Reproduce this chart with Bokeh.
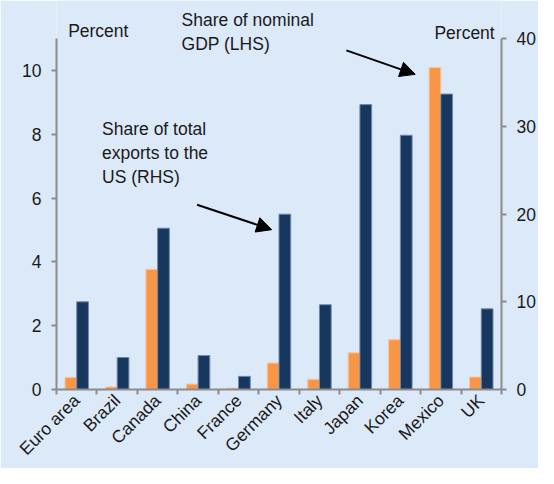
import math
from bokeh.plotting import figure
from bokeh.models import (Range1d, LinearAxis, FixedTicker, Label, Arrow,
                          NormalHead, ColumnDataSource)
from bokeh.embed import file_html
from bokeh.resources import INLINE

countries = ["Euro area", "Brazil", "Canada", "China", "France", "Germany",
             "Italy", "Japan", "Korea", "Mexico", "UK"]
gdp_share = [0.38, 0.08, 3.77, 0.17, 0.04, 0.83, 0.32, 1.15, 1.56, 10.1, 0.39]
export_share = [10.0, 3.65, 18.4, 3.87, 1.5, 20.0, 9.67, 32.5, 29.0, 33.7, 9.2]
left_ticks = [0, 2, 4, 6, 8, 10]
right_ticks = [0, 10, 20, 30, 40]
left_max = 11
right_max = 40

BG = "#DCE9F8"
ORANGE = "#F79646"
NAVY = "#17375E"
AXIS = "#8C8C8C"
FONT = "Liberation Sans"
FS = "17.5px"

W, H = 538, 468
SX, SY = W / 554, H / 484
# frame geometry (figure pixels)
FL, FR = 58 * SX, 517 * SX
Y0, Y11 = 405.7 * SY, 40 * SY
ppu = (Y0 - Y11) / left_max
ytop = Y0 / ppu  # data value at top of figure

n = len(countries)
centers = [i + 0.5 for i in range(n)]
bw = 0.29

src = ColumnDataSource(dict(
    xo=[c - bw / 2 for c in centers],
    xn=[c + bw / 2 for c in centers],
    gdp=gdp_share,
    exp=export_share,
))

p = figure(width=W, height=H, output_backend="svg", toolbar_location=None,
           x_range=Range1d(0, n), y_range=Range1d(0, ytop),
           min_border_left=round(FL), min_border_right=round(W - FR),
           min_border_top=0, min_border_bottom=round(H - Y0),
           x_axis_location=None, y_axis_location=None)
p.background_fill_color = BG
p.border_fill_color = BG
p.outline_line_color = None
p.grid.visible = False
p.extra_y_ranges = {"rhs": Range1d(0, ytop * right_max / left_max)}

p.vbar(x="xo", top="gdp", width=bw, bottom=0, source=src,
       fill_color=ORANGE, line_color="#FAC59E", line_width=1)
p.vbar(x="xn", top="exp", width=bw, bottom=0, source=src, y_range_name="rhs",
       fill_color=NAVY, line_color="#6F89AA", line_width=1)

def style(ax):
    ax.axis_line_color = AXIS
    ax.axis_line_width = 2
    ax.major_tick_line_color = AXIS
    ax.major_tick_line_width = 2
    ax.minor_tick_line_color = AXIS
    ax.minor_tick_line_width = 2
    ax.major_tick_in = 0
    ax.minor_tick_in = 0
    ax.minor_tick_out = 0
    ax.major_label_text_font = FONT
    ax.major_label_text_font_size = FS
    ax.major_label_text_color = "#1a1a1a"

yl = LinearAxis(ticker=FixedTicker(ticks=left_ticks), bounds=(0, left_max))
style(yl)
yl.major_tick_out = 5
yl.major_label_standoff = 10
p.add_layout(yl, "left")

yr = LinearAxis(y_range_name="rhs", ticker=FixedTicker(ticks=right_ticks),
                bounds=(0, right_max))
style(yr)
yr.major_tick_out = 5
yr.major_label_standoff = 10
p.add_layout(yr, "right")

xa = LinearAxis(ticker=FixedTicker(ticks=centers, minor_ticks=list(range(n + 1))))
style(xa)
xa.major_tick_out = 0
xa.minor_tick_out = 5
xa.major_label_overrides = {c: name for c, name in zip(centers, countries)}
xa.major_label_orientation = math.pi / 4
xa.major_label_standoff = 3
p.add_layout(xa, "below")

# annotations placed from reference pixel positions
def px_to_x(px):
    return (px * SX - FL) / ((FR - FL) / n)

def py_to_y(py):
    return (Y0 - py * SY) / ppu

def label(txt, px, py, align="left"):
    p.add_layout(Label(x=px_to_x(px), y=py_to_y(py), text=txt,
                       text_font=FONT, text_font_size=FS, text_color="#1a1a1a",
                       text_align=align, text_baseline="top",
                       text_line_height=1.2))

label("Percent", 70, 21)
label("Percent", 510, 23, align="right")
label("Share of nominal\nGDP (LHS)", 187, 10)
label("Share of total\nexports to the\nUS (RHS)", 105, 124)

for (x0, y0, x1, y1) in [(357, 52, 428, 77), (203, 213, 280, 239)]:
    p.add_layout(Arrow(x_start=px_to_x(x0), y_start=py_to_y(y0),
                       x_end=px_to_x(x1), y_end=py_to_y(y1),
                       line_color="black", line_width=2,
                       end=NormalHead(size=15, fill_color="black",
                                      line_color="black")))

open("out.html", "w").write(file_html(p, INLINE))
